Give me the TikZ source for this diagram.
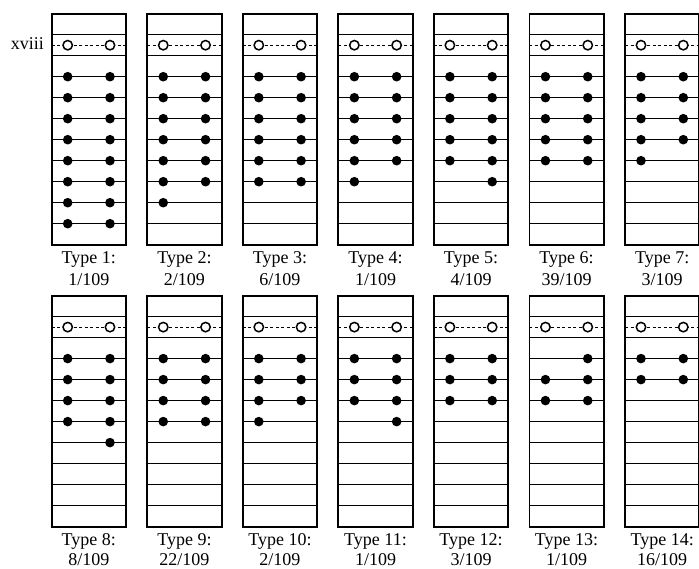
\documentclass[tikz,border=0pt]{standalone}
\usepackage{fontspec}
\setmainfont{Liberation Serif}
\newcommand\fracy{271.8}
\newcommand\drawpanel[9]{%
  \begin{scope}[shift={(#2,#3)}]
    \foreach \k in {1,...,10} \draw[rule] (0,21*\k) -- (74.3,21*\k);
    \draw[dashrule] (0,31.5) -- (74.3,31.5);
    \draw[opendot] (16,31.5) circle (4.7pt);
    \draw[opendot] (58.3,31.5) circle (4.7pt);
    \foreach \r in {#6,...,#7} \fill[fulldot] (16,42+21*\r) circle (4.8pt);
    \foreach \r in {#8,...,#9} \fill[fulldot] (58.3,42+21*\r) circle (4.8pt);
    \draw[frame] (0,0) rectangle (74.3,231);
    \node[lbl] (t#1) at (37.15,250.3) {Type #4:};
    \node[lbl, text depth=0pt] (f#1) at (37.15,\fracy) {#5};
  \end{scope}}
\begin{document}
\begin{tikzpicture}[x=1pt,y=-1pt,
  frame/.style={line width=1.9pt},
  rule/.style={line width=1.6pt},
  dashrule/.style={line width=1.1pt, dash pattern=on 3pt off 2.5pt},
  fulldot/.style={fill=black},
  opendot/.style={draw=black, fill=white, line width=1.5pt},
  lbl/.style={font=\fontsize{18}{18}\selectfont, inner sep=0pt, anchor=base}]
\clip (0,0) rectangle (699,569);
\fill[white] (0,0) rectangle (699,569);
\node[lbl, anchor=base east] (roman) at (44,50) {xviii};
% top row
\drawpanel{1}{51.7}{13.7}{1}{1/109}{1}{8}{1}{8}
\drawpanel{2}{147.25}{13.7}{2}{2/109}{1}{7}{1}{6}
\drawpanel{3}{242.8}{13.7}{3}{6/109}{1}{6}{1}{6}
\drawpanel{4}{338.35}{13.7}{4}{1/109}{1}{6}{1}{5}
\drawpanel{5}{433.9}{13.7}{5}{4/109}{1}{5}{1}{6}
\drawpanel{6}{529.45}{13.7}{6}{39/109}{1}{5}{1}{5}
\drawpanel{7}{625}{13.7}{7}{3/109}{1}{5}{1}{4}
% bottom row
\renewcommand\fracy{269.6}
\drawpanel{8}{51.7}{295.6}{8}{8/109}{1}{4}{1}{5}
\drawpanel{9}{147.25}{295.6}{9}{22/109}{1}{4}{1}{4}
\drawpanel{10}{242.8}{295.6}{10}{2/109}{1}{4}{1}{3}
\drawpanel{11}{338.35}{295.6}{11}{1/109}{1}{3}{1}{4}
\drawpanel{12}{433.9}{295.6}{12}{3/109}{1}{3}{1}{3}
\drawpanel{13}{529.45}{295.6}{13}{1/109}{2}{3}{1}{3}
\drawpanel{14}{625}{295.6}{14}{16/109}{1}{2}{1}{2}
\end{tikzpicture}
\end{document}
